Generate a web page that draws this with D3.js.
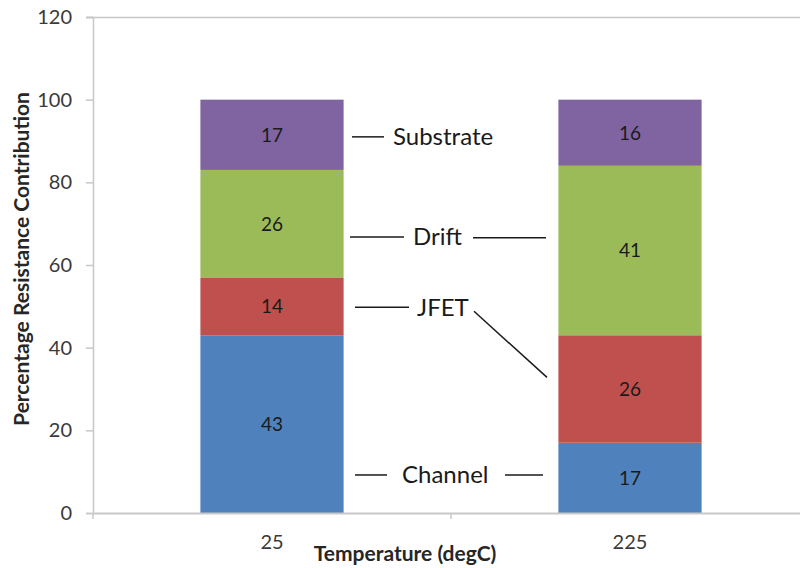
<!DOCTYPE html>
<html>
<head>
<meta charset="utf-8">
<script src="https://cdn.jsdelivr.net/npm/d3@7"></script>
<style>
  html, body { margin: 0; padding: 0; background: #fff; }
  svg { display: block; }
  text { font-family: Lato, "Open Sans", sans-serif; }
</style>
</head>
<body>
<svg id="chart" width="800" height="568"></svg>
<script>
// ---- data ----
const categories = ["25", "225"];
const seriesNames = ["Channel", "JFET", "Drift", "Substrate"];
const channel   = [43, 17];
const jfet      = [14, 26];
const drift     = [26, 41];
const substrate = [17, 16];
const yTicks = [0, 20, 40, 60, 80, 100, 120];
const colors = ["#4f81bd", "#c0504d", "#9bbb59", "#8064a2"];
const xTitle = "Temperature (degC)";
const yTitle = "Percentage Resistance Contribution";

(function () {
const rows = categories.map((c, i) => ({
  cat: c, Channel: channel[i], JFET: jfet[i], Drift: drift[i], Substrate: substrate[i]
}));

const svg = d3.select("#chart");
const pLeft = 93, pRight = 809, pTop = 17, pBottom = 513;

const x = d3.scaleBand().domain(categories).range([pLeft, pRight]).padding(0);
const y = d3.scaleLinear().domain([0, 120]).range([pBottom, pTop]);
const barW = x.bandwidth() * 0.4;

const stack = d3.stack().keys(seriesNames)(rows);

// top border line
svg.append("line").attr("x1", pLeft - 7).attr("x2", pRight).attr("y1", y(120) + 0.5).attr("y2", y(120) + 0.5)
  .attr("stroke", "#c8c8c8").attr("stroke-width", 1.5);

// bars
const g = svg.append("g");
stack.forEach((layer, li) => {
  g.selectAll(null).data(layer).enter().append("rect")
    .attr("x", d => x(d.data.cat) + (x.bandwidth() - barW) / 2)
    .attr("y", d => y(d[1]))
    .attr("width", barW)
    .attr("height", d => y(d[0]) - y(d[1]))
    .attr("fill", colors[li]);
  g.selectAll(null).data(layer).enter().append("text")
    .attr("x", d => x(d.data.cat) + x.bandwidth() / 2)
    .attr("y", d => (y(d[0]) + y(d[1])) / 2)
    .attr("dy", "0.36em")
    .attr("text-anchor", "middle")
    .attr("font-size", 19)
    .attr("fill", "#1a1a1a")
    .text(d => d[1] - d[0]);
});

// y axis
const yAxis = d3.axisLeft(y).tickValues(yTicks).tickSize(7).tickPadding(14);
const ya = svg.append("g").attr("transform", `translate(${pLeft},0)`).call(yAxis);
ya.select(".domain").attr("stroke", "#c8c8c8").attr("stroke-width", 1.5);
ya.selectAll(".tick line").attr("stroke", "#c8c8c8").attr("stroke-width", 1.5);
ya.selectAll(".tick text").attr("font-size", 20).attr("fill", "#3a3a3a")
  .attr("font-family", "Lato, sans-serif");

// x axis
const xAxis = d3.axisBottom(x).tickSize(0).tickPadding(22);
const xa = svg.append("g").attr("transform", `translate(0,${pBottom})`).call(xAxis);
xa.select(".domain").attr("stroke", "#c8c8c8").attr("stroke-width", 2);
xa.selectAll(".tick text").attr("font-size", 20).attr("fill", "#3a3a3a")
  .attr("font-family", "Lato, sans-serif");
// category boundary ticks
const bounds = [pLeft, pLeft + x.step(), pRight];
svg.selectAll(null).data(bounds).enter().append("line")
  .attr("x1", d => d).attr("x2", d => d).attr("y1", pBottom).attr("y2", pBottom + 6)
  .attr("stroke", "#c8c8c8").attr("stroke-width", 1.5);

// axis titles
svg.append("text").attr("x", 405).attr("y", 561).attr("text-anchor", "middle")
  .attr("font-size", 21).attr("font-weight", "bold").attr("fill", "#262626").text(xTitle);
svg.append("text").attr("transform", "translate(29,259) rotate(-90)").attr("text-anchor", "middle")
  .attr("font-size", 21).attr("font-weight", "bold").attr("fill", "#262626").text(yTitle);

// annotations
const ann = svg.append("g").attr("stroke", "#1a1a1a").attr("stroke-width", 1.5);
const lines = [
  [352, 91, 384, 91],
  [350, 66.8, 404, 66.8],
  [473, 66.6, 546, 66.6],
  [355, 49.8, 409, 49.8],
  [474, 48.8, 547, 32.8],
  [355, 9.2, 387, 9.2],
  [505, 9.2, 543, 9.2]
];
lines.forEach(l => ann.append("line").attr("x1", l[0]).attr("y1", y(l[1])).attr("x2", l[2]).attr("y2", y(l[3])));
const labels = [
  ["Substrate", 393, 91],
  ["Drift", 413, 66.8],
  ["JFET", 417, 49.8],
  ["Channel", 402, 9.2]
];
labels.forEach(t => svg.append("text").attr("x", t[1]).attr("y", y(t[2])).attr("dy", "0.35em")
  .attr("font-size", 24).attr("fill", "#1a1a1a").text(t[0]));
})();
</script>
</body>
</html>
